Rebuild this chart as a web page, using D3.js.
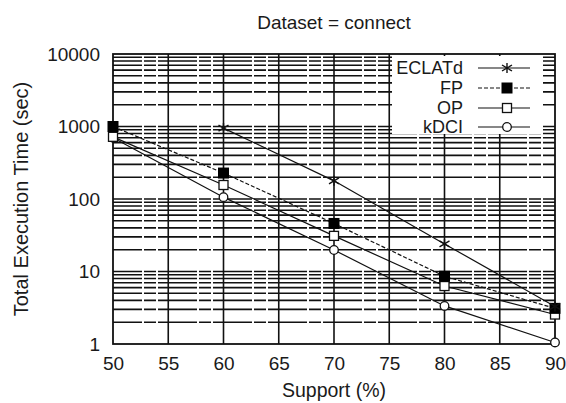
<!DOCTYPE html>
<html>
<head>
<meta charset="utf-8">
<script src="https://cdn.jsdelivr.net/npm/d3@7"></script>
<style>
  html, body { margin: 0; padding: 0; background: #fff; }
  svg { display: block; font-family: "Liberation Sans", Arial, sans-serif; }
</style>
</head>
<body>
<svg id="chart" width="566" height="403"></svg>
<script>
// Support thresholds (%) on the x axis
const supports = [50, 60, 70, 80, 90];

// Total execution time (sec) per algorithm; null = no run recorded
const eclatd = [null, 950, 178, 24, 3.3];
const fp     = [1000, 228, 46, 8.6, 3.1];
const op     = [720, 156, 31, 6.3, 2.55];
const kdci   = [700, 106, 19.8, 3.35, 1.05];

const xTicks = [50, 55, 60, 65, 70, 75, 80, 85, 90];
const yTicks = [1, 10, 100, 1000, 10000];

const series = [
  { name: "ECLATd", values: eclatd, marker: "star",   dash: null },
  { name: "FP",     values: fp,     marker: "filled", dash: "4,2" },
  { name: "OP",     values: op,     marker: "square", dash: null },
  { name: "kDCI",   values: kdci,   marker: "circle", dash: null }
];

const svg = d3.select("#chart");
const plotLeft = 113, plotRight = 555, plotTop = 54, plotBottom = 344;
const ink = "#111";

const x = d3.scaleLinear().domain([50, 90]).range([plotLeft, plotRight]);
const y = d3.scaleLog().domain([1, 10000]).range([plotBottom, plotTop]);

// Grid: major + minor log lines horizontally, every 5% vertically
const minor = [];
for (let d = 1; d < 10000; d *= 10) {
  for (let k = 2; k <= 9; k++) minor.push(d * k);
}
const grid = svg.append("g").attr("stroke", ink).attr("stroke-width", 1.6);
grid.selectAll("line.h").data(minor.concat(yTicks.slice(1, -1))).join("line")
  .attr("x1", plotLeft).attr("x2", plotRight)
  .attr("y1", d => y(d)).attr("y2", d => y(d))
  .attr("stroke-dasharray", "29,2,12,2,10,0");
grid.selectAll("line.v").data(xTicks.slice(1, -1)).join("line")
  .attr("x1", d => x(d)).attr("x2", d => x(d))
  .attr("y1", plotTop).attr("y2", plotBottom);

// Frame
svg.append("rect")
  .attr("x", plotLeft).attr("y", plotTop)
  .attr("width", plotRight - plotLeft).attr("height", plotBottom - plotTop)
  .attr("fill", "none").attr("stroke", ink).attr("stroke-width", 1.8);

// Axes (labels only; the frame draws the spines)
const xAxis = svg.append("g").attr("transform", `translate(0,${plotBottom})`)
  .call(d3.axisBottom(x).tickValues(xTicks).tickSize(0).tickPadding(13).tickFormat(d3.format("d")));
const yAxis = svg.append("g").attr("transform", `translate(${plotLeft},0)`)
  .call(d3.axisLeft(y).tickValues(yTicks).tickSize(0).tickPadding(13).tickFormat(d3.format("d")));
[xAxis, yAxis].forEach(a => {
  a.select(".domain").remove();
  a.selectAll("text").attr("font-size", 19).attr("fill", "#1a1a1a")
    .attr("font-family", "'Liberation Sans', Arial, sans-serif");
});

// Titles
svg.append("text").attr("x", 334).attr("y", 29).attr("text-anchor", "middle")
  .attr("font-size", 19).attr("fill", "#1a1a1a").text("Dataset = connect");
svg.append("text").attr("x", 334).attr("y", 397).attr("text-anchor", "middle")
  .attr("font-size", 19.5).attr("fill", "#1a1a1a").text("Support (%)");
svg.append("text").attr("transform", "translate(28,199) rotate(-90)")
  .attr("text-anchor", "middle").attr("font-size", 20).attr("fill", "#1a1a1a")
  .text("Total Execution Time (sec)");

// Marker drawing
function drawMarker(g, type, cx, cy) {
  if (type === "star") {
    const r = 5;
    g.append("path")
      .attr("d", `M${cx},${cy - r}V${cy + r}M${cx - r},${cy - r * 0.6}L${cx + r},${cy + r * 0.6}M${cx - r},${cy + r * 0.6}L${cx + r},${cy - r * 0.6}`)
      .attr("stroke", ink).attr("stroke-width", 1.4).attr("fill", "none");
  } else if (type === "filled") {
    g.append("rect").attr("x", cx - 5.5).attr("y", cy - 5.5).attr("width", 11).attr("height", 11)
      .attr("fill", "#000");
  } else if (type === "square") {
    g.append("rect").attr("x", cx - 4.5).attr("y", cy - 4.5).attr("width", 9).attr("height", 9)
      .attr("fill", "#fff").attr("stroke", ink).attr("stroke-width", 1.3);
  } else {
    g.append("circle").attr("cx", cx).attr("cy", cy).attr("r", 4.3)
      .attr("fill", "#fff").attr("stroke", ink).attr("stroke-width", 1.3);
  }
}

// Series lines and markers
const line = d3.line()
  .defined(d => d.v != null)
  .x(d => x(d.s)).y(d => y(d.v));
const plot = svg.append("g");
series.forEach(s => {
  const pts = supports.map((sv, i) => ({ s: sv, v: s.values[i] }));
  plot.append("path").datum(pts)
    .attr("d", line).attr("fill", "none")
    .attr("stroke", ink).attr("stroke-width", 1.2)
    .attr("stroke-dasharray", s.dash);
});
// Markers drawn last series first, so the squares sit on top of the circles
series.slice().reverse().forEach(s => {
  const g = plot.append("g");
  supports.forEach((sv, i) => {
    if (s.values[i] != null) drawMarker(g, s.marker, x(sv), y(s.values[i]));
  });
});

// Legend
const legend = svg.append("g");
legend.append("rect").attr("x", 392).attr("y", 56).attr("width", 151).attr("height", 78).attr("fill", "#fff");
const rowY = [68, 88, 108, 127];
series.forEach((s, i) => {
  const yy = rowY[i];
  legend.append("text").attr("x", 463).attr("y", yy).attr("dy", "0.35em")
    .attr("text-anchor", "end").attr("font-size", 18).attr("fill", "#1a1a1a").text(s.name);
  legend.append("line").attr("x1", 478).attr("x2", 530).attr("y1", yy).attr("y2", yy)
    .attr("stroke", ink).attr("stroke-width", 1.2).attr("stroke-dasharray", s.dash);
  drawMarker(legend, s.marker, 507, yy);
});
</script>
</body>
</html>
